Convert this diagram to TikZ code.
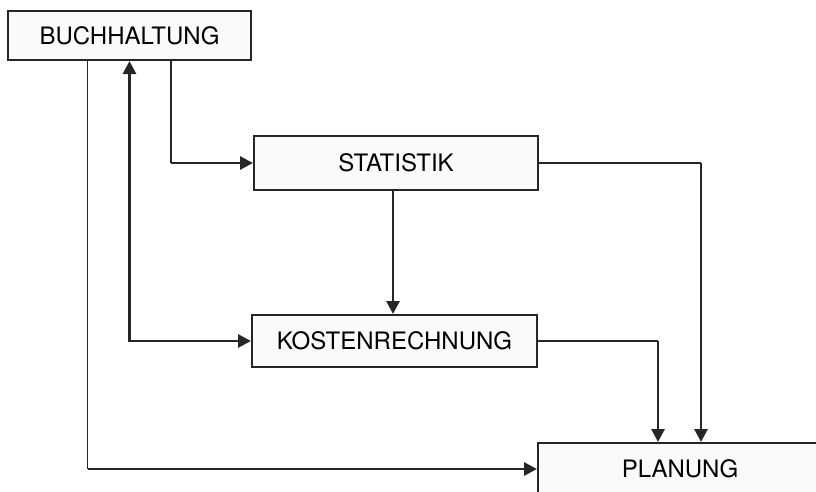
\documentclass[tikz,border=0pt]{standalone}
\usepackage{fontspec}
\setmainfont{TeX Gyre Heros}
\usetikzlibrary{arrows.meta}
\definecolor{linegray}{HTML}{262626}
\definecolor{boxfill}{HTML}{FAFAFA}
\begin{document}
\begin{tikzpicture}[x=1pt,y=-1pt,
  dept/.style={draw=linegray,fill=boxfill,line width=2pt,minimum height=52pt,
    inner sep=0pt,font=\fontsize{24}{28}\selectfont},
  thinline/.style={draw=linegray,line width=1.6pt},
  arrline/.style={draw=linegray,line width=2.8pt,-{Triangle[length=13pt,width=13pt]}},
  bothline/.style={draw=linegray,line width=2.8pt,
    {Triangle[length=13pt,width=13pt]}-{Triangle[length=13pt,width=13pt]}}]
\useasboundingbox (0,0) rectangle (816,491);

\node[dept,minimum width=243pt,minimum height=49pt] (buch) at (129.5,35.5) {BUCHHALTUNG};
\node[dept,minimum width=284pt,minimum height=54pt] (stat) at (396,163) {STATISTIK};
\node[dept,minimum width=285pt] (kost) at (394.5,341) {KOSTENRECHNUNG};
\node[dept,minimum width=284pt] (plan) at (680,469) {PLANUNG};

\draw[thinline] ([xshift=-42pt]buch.south) -- ([xshift=-42pt]buch.south |- plan.west) coordinate (bp);
\draw[arrline] (bp) -- (plan.west);

\draw[thinline] ([xshift=41.5pt]buch.south) -- ([xshift=41.5pt]buch.south |- stat.west) coordinate (bs);
\draw[arrline] (bs) -- (stat.west);

\draw[bothline] (buch.south) |- (kost.west);

\draw[arrline] ([xshift=-3pt]stat.south) -- ([xshift=-3pt]stat.south |- kost.north);

\draw[thinline] (stat.east) -- ([xshift=21pt]plan.north |- stat.east) coordinate (sp);
\draw[arrline] (sp) -- ([xshift=21pt]plan.north);

\draw[thinline] (kost.east) -- ([xshift=-22pt]plan.north |- kost.east) coordinate (kp);
\draw[arrline] (kp) -- ([xshift=-22pt]plan.north);
\end{tikzpicture}
\end{document}
